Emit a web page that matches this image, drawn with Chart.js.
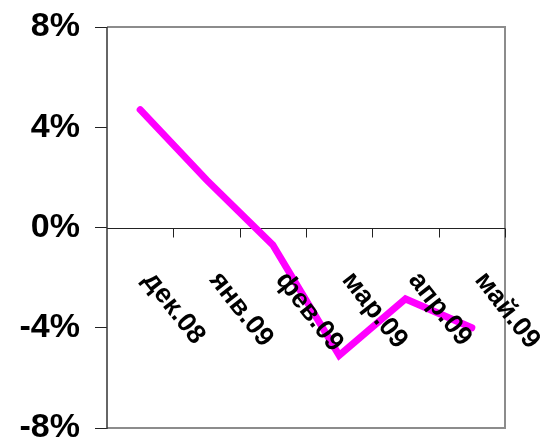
<!DOCTYPE html>
<html>
<head>
<meta charset="utf-8">
<script src="https://cdn.jsdelivr.net/npm/chart.js@4"></script>
<style>
  html, body { margin: 0; padding: 0; background: #fff; }
  #wrap { width: 540px; height: 442px; }
</style>
</head>
<body>
<div id="wrap"><canvas id="grafico" width="540" height="442"></canvas></div>
<script>
const meses = ["дек.08", "янв.09", "фев.09", "мар.09", "апр.09", "май.09"]
const valores = [4.7, 1.9, -0.7, -5.1, -2.85, -4.0]
const eixoMin = -8
const eixoMax = 8
const passo = 4

const FONTE = "'Liberation Sans', Arial, sans-serif"

// moldura cinza, linha do zero com marcas e rótulos inclinados
const extras = {
  id: "extras",
  beforeDatasetsDraw(chart) {
    const { ctx, chartArea: a, scales } = chart
    ctx.save()
    ctx.strokeStyle = "#8c8c8c"
    ctx.lineWidth = 2
    ctx.beginPath()
    ctx.moveTo(a.left, a.top)
    ctx.lineTo(a.right, a.top)
    ctx.lineTo(a.right, a.bottom)
    ctx.lineTo(a.left, a.bottom)
    ctx.stroke()

    const y0 = Math.round(scales.y.getPixelForValue(0)) + 0.5
    ctx.strokeStyle = "#222"
    ctx.lineWidth = 1
    ctx.beginPath()
    ctx.moveTo(a.left, y0)
    ctx.lineTo(a.right, y0)
    const x = scales.x
    for (let i = 0; i < meses.length; i++) {
      const meio = i < meses.length - 1
        ? (x.getPixelForValue(i) + x.getPixelForValue(i + 1)) / 2
        : a.right
      const px = Math.round(meio) + 0.5
      ctx.moveTo(px, y0)
      ctx.lineTo(px, y0 + 9)
    }
    ctx.stroke()

    ctx.strokeStyle = "#333"
    ctx.lineWidth = 1.5
    ctx.beginPath()
    ctx.moveTo(a.left, a.top)
    ctx.lineTo(a.left, a.bottom + 1)
    ctx.stroke()
    ctx.restore()
  },
  afterDatasetsDraw(chart) {
    const { ctx, scales } = chart
    const y0 = scales.y.getPixelForValue(0)
    ctx.save()
    ctx.fillStyle = "#000"
    ctx.font = "bold 27px " + FONTE
    ctx.textAlign = "left"
    ctx.textBaseline = "middle"
    meses.forEach((m, i) => {
      const px = scales.x.getPixelForValue(i)
      ctx.save()
      ctx.translate(px + 8, y0 + 48)
      ctx.rotate(52 * Math.PI / 180)
      ctx.fillText(m, 0, 0)
      ctx.restore()
    })
    ctx.restore()
  }
}

new Chart(document.getElementById("grafico"), {
  type: "line",
  data: {
    labels: meses,
    datasets: [{
      data: valores,
      borderColor: "#ff00ff",
      borderWidth: 7,
      borderCapStyle: "round",
      borderJoinStyle: "miter",
      pointRadius: 0,
      tension: 0,
      fill: false
    }]
  },
  options: {
    responsive: false,
    animation: false,
    layout: {
      padding: { left: 0, right: 35, top: 27, bottom: 14 }
    },
    plugins: {
      legend: { display: false },
      tooltip: { enabled: false }
    },
    scales: {
      x: {
        type: "category",
        display: false,
        offset: true
      },
      y: {
        min: eixoMin,
        max: eixoMax,
        grid: {
          drawOnChartArea: false,
          tickLength: 12,
          color: "#222",
          lineWidth: 1
        },
        border: { display: false },
        ticks: {
          stepSize: passo,
          padding: 15,
          color: "#000",
          font: { family: FONTE, size: 34, weight: "bold" },
          callback: v => v + "%"
        },
        afterFit(scale) {
          scale.width = 107
          scale.paddingTop = 0
          scale.paddingBottom = 0
        }
      }
    }
  },
  plugins: [extras]
})
</script>
</body>
</html>
